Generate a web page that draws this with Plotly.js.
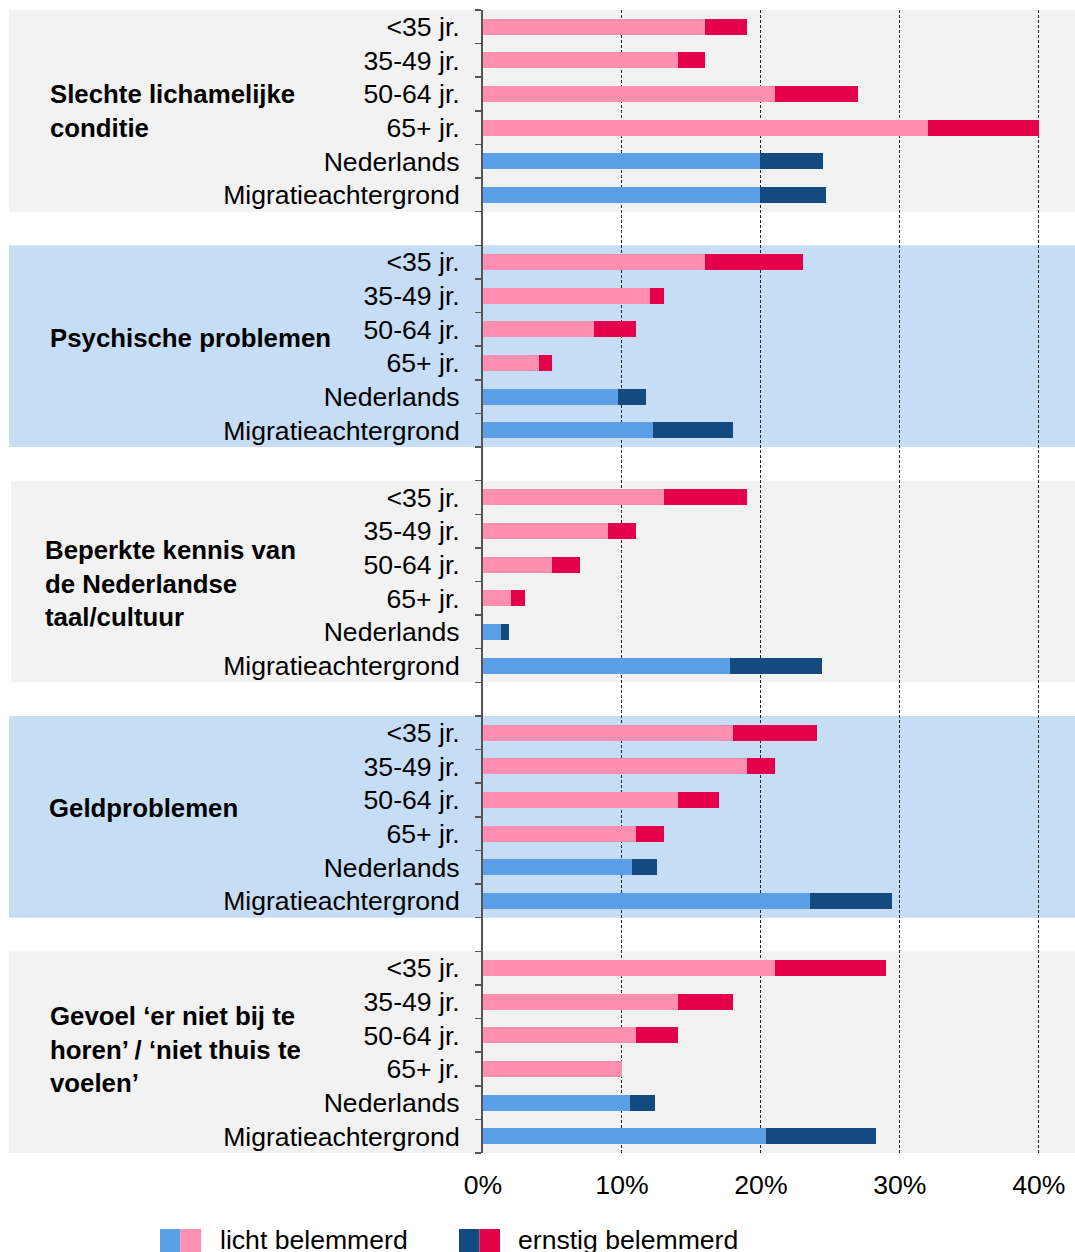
<!DOCTYPE html>
<html>
<head>
<meta charset="utf-8">
<script src="https://cdn.plot.ly/plotly-3.0.1.min.js"></script>
<style>html,body{margin:0;padding:0;background:#fff;}#chart{width:1075px;height:1252px;}</style>
</head>
<body>
<div id="chart"></div>
<script>
// ---- data ----
const groupLabels = [
  "Slechte lichamelijke<br>conditie",
  "Psychische problemen",
  "Beperkte kennis van<br>de Nederlandse<br>taal/cultuur",
  "Geldproblemen",
  "Gevoel ‘er niet bij te<br>horen’ / ‘niet thuis te<br>voelen’"
];
const rowLabels = ["&lt;35 jr.", "35-49 jr.", "50-64 jr.", "65+ jr.", "Nederlands", "Migratieachtergrond"];
const lichtBelemmerd = [
  [16, 14, 21, 32, 19.9, 19.9],
  [16, 12, 8, 4, 9.7, 12.2],
  [13, 9, 5, 2, 1.3, 17.8],
  [18, 19, 14, 11, 10.7, 23.5],
  [21, 14, 11, 10, 10.6, 20.4]
];
const ernstigBelemmerd = [
  [3, 2, 6, 8, 4.6, 4.8],
  [7, 1, 3, 1, 2.0, 5.8],
  [6, 2, 2, 1, 0.6, 6.6],
  [6, 2, 3, 2, 1.8, 5.9],
  [8, 4, 3, 0, 1.8, 7.9]
];
const xTicks = [0, 10, 20, 30, 40];
const xTickLabels = ["0%", "10%", "20%", "30%", "40%"];
const legendLabels = ["licht belemmerd", "ernstig belemmerd"];

// ---- styling ----
const W = 1075, H = 1252;
const M = {l: 483, r: 0, t: 10, b: 99};
const PW = W - M.l - M.r, PH = H - M.t - M.b;
const pxX = px => (px - M.l) / PW;
const pxY = py => (H - M.b - py) / PH;
const FONT = "'Liberation Sans', Arial, sans-serif";
const FS = 26.6;
const C = {pinkL: "#FF8FB1", pinkD: "#E4004A", blueL: "#5B9FE6", blueD: "#134A80",
           bgGray: "#F2F2F2", bgBlue: "#C6DDF5"};
const SLOTS = 7;
const labelShift = [0, -0.24, 0.05, -0.25, -0.08];
const labelLeft = [48, 48, 43, 47, 48];

const ys = [], xL = [], xE = [], cL = [], cE = [], tickvals = [], ticktext = [];
groupLabels.forEach((g, gi) => {
  rowLabels.forEach((r, ri) => {
    const y = gi * SLOTS + ri;
    ys.push(y); tickvals.push(y); ticktext.push(r);
    xL.push(lichtBelemmerd[gi][ri]);
    xE.push(ernstigBelemmerd[gi][ri]);
    const isAge = ri < 4;
    cL.push(isAge ? C.pinkL : C.blueL);
    cE.push(isAge ? C.pinkD : C.blueD);
  });
});
const nSlots = groupLabels.length * SLOTS - 1;
const minorVals = [];
for (let k = 0; k <= nSlots; k++) minorVals.push(k - 0.5);

const traces = [
  {type: "bar", orientation: "h", y: ys, x: xL, width: 0.475, marker: {color: cL, line: {width: 0}}, name: legendLabels[0], hoverinfo: "skip"},
  {type: "bar", orientation: "h", y: ys, x: xE, width: 0.475, marker: {color: cE, line: {width: 0}}, name: legendLabels[1], hoverinfo: "skip"}
];

const shapes = [];
const annotations = [];
groupLabels.forEach((g, gi) => {
  shapes.push({type: "rect", layer: "below", xref: "paper", yref: "y",
    x0: pxX(gi === 2 ? 11 : 9), x1: 1, y0: gi * SLOTS - 0.5, y1: gi * SLOTS + 5.5,
    fillcolor: gi % 2 === 0 ? C.bgGray : C.bgBlue, line: {width: 0}});
  annotations.push({xref: "paper", yref: "y", x: pxX(labelLeft[gi]), y: gi * SLOTS + 2.5 + labelShift[gi],
    xanchor: "left", yanchor: "middle", align: "left", showarrow: false, text: "<b>" + g + "</b>",
    font: {family: FONT, size: 25.8, color: "#000"}});
});
// legend
const legendItems = [
  {x0: 160, colors: [C.blueL, C.pinkL], tx: 218},
  {x0: 459, colors: [C.blueD, C.pinkD], tx: 516}
];
legendItems.forEach((it, i) => {
  it.colors.forEach((c, j) => {
    shapes.push({type: "rect", xref: "paper", yref: "paper",
      x0: pxX(it.x0 + j * 20.5), x1: pxX(it.x0 + (j + 1) * 20.5),
      y0: pxY(1229), y1: pxY(1256), fillcolor: c, line: {width: 0}});
  });
  annotations.push({xref: "paper", yref: "paper", x: pxX(it.tx), y: pxY(1240),
    xanchor: "left", yanchor: "middle", showarrow: false, text: legendLabels[i],
    font: {family: FONT, size: FS, color: "#000"}});
});

const layout = {
  width: W, height: H, margin: M,
  paper_bgcolor: "#fff", plot_bgcolor: "rgba(0,0,0,0)",
  barmode: "stack", showlegend: false, hovermode: false,
  font: {family: FONT, size: FS, color: "#000"},
  xaxis: {range: [0, 42.6], tickmode: "array", tickvals: xTicks, ticktext: xTickLabels, ticks: "",
    showgrid: true, gridcolor: "#222", gridwidth: 1, griddash: "3px,2px",
    zeroline: false, showline: false, ticklabelstandoff: 13,
    tickfont: {family: FONT, size: FS, color: "#000"}},
  yaxis: {range: [nSlots - 0.5, -0.5], tickmode: "array", tickvals: tickvals, ticktext: ticktext,
    ticks: "", showgrid: false, zeroline: false, showline: true, linecolor: "#555", linewidth: 2,
    ticklabelstandoff: 16,
    minor: {tickmode: "array", tickvals: minorVals, ticks: "outside", ticklen: 6, tickcolor: "#555", tickwidth: 1.5, showgrid: false},
    tickfont: {family: FONT, size: FS, color: "#000"}},
  shapes: shapes, annotations: annotations
};
Plotly.newPlot("chart", traces, layout, {staticPlot: true});
</script>
</body>
</html>
